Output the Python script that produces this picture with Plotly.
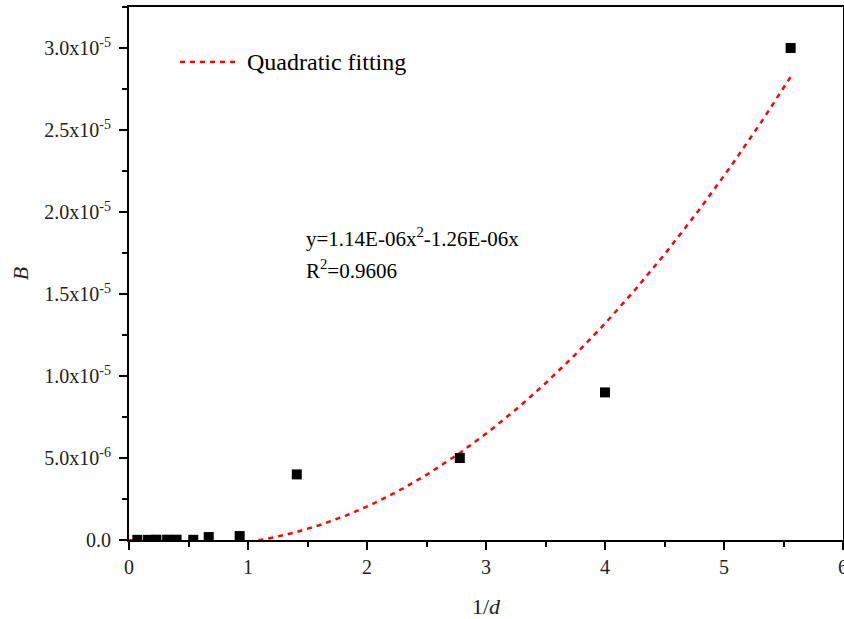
import numpy as np
import plotly.graph_objects as go

# Measured points: inverse size 1/d and coefficient B
inv_d = [0.07, 0.16, 0.23, 0.32, 0.40, 0.54, 0.67, 0.93, 1.41, 2.78, 4.00, 5.56]
b_vals = [1e-8, 1e-8, 2e-8, 2e-8, 2e-8, 1e-8, 1.8e-7, 2.4e-7,
          4.0e-6, 5.0e-6, 9.0e-6, 3.0e-5]

# Quadratic fit coefficients (y = a*x^2 + b*x)
fit_a = 1.14e-6
fit_b = -1.26e-6
fit_r2 = 0.9606

y_tickvals = [0, 5e-6, 1e-5, 1.5e-5, 2e-5, 2.5e-5, 3e-5]
y_ticktext = ["0.0", "5.0x10<sup>-6</sup>", "1.0x10<sup>-5</sup>", "1.5x10<sup>-5</sup>",
              "2.0x10<sup>-5</sup>", "2.5x10<sup>-5</sup>", "3.0x10<sup>-5</sup>"]

xf = np.linspace(0, max(inv_d), 300)
yf = fit_a * xf ** 2 + fit_b * xf

FONT = "Liberation Serif"
RED_LINE = dict(color="#ff0000", width=2.5, dash="5px,5px")

fig = go.Figure()
fig.add_trace(go.Scatter(
    x=xf, y=yf, mode="lines", name="Quadratic fitting", showlegend=False,
    line=RED_LINE,
))
fig.add_trace(go.Scatter(
    x=inv_d, y=b_vals, mode="markers", showlegend=False, cliponaxis=True,
    marker=dict(symbol="square", size=10, color="black"),
))

# Legend key drawn in the upper-left corner
fig.add_shape(type="line", xref="paper", yref="paper",
              x0=0.0714, x1=0.1485, y0=0.897, y1=0.897, line=RED_LINE)
fig.add_annotation(
    x=0.1625, y=0.897, xref="paper", yref="paper", xanchor="left", yanchor="middle",
    text="Quadratic fitting", showarrow=False,
    font=dict(family=FONT, size=24, color="black"),
)

fig.add_annotation(
    x=0.245, y=0.567, xref="paper", yref="paper", xanchor="left", yanchor="middle",
    text=f"y={fit_a:.2E}x<sup>2</sup>{fit_b:.2E}x",
    showarrow=False, font=dict(family=FONT, size=21, color="black"),
)
fig.add_annotation(
    x=0.245, y=0.507, xref="paper", yref="paper", xanchor="left", yanchor="middle",
    text=f"R<sup>2</sup>={fit_r2}",
    showarrow=False, font=dict(family=FONT, size=21, color="black"),
)

axis_common = dict(
    showline=True, linecolor="black", linewidth=2, mirror=True,
    showgrid=False, zeroline=False, ticks="outside", ticklen=8, tickwidth=2,
    tickcolor="black", tickfont=dict(family=FONT, size=20, color="#222"),
    ticklabeloverflow="allow", automargin=False,
)

fig.update_xaxes(
    range=[0, 6], dtick=1, tick0=0,
    minor=dict(ticks="outside", ticklen=5, tickwidth=2, tickcolor="black", dtick=0.5, tick0=0),
    title=dict(text="1/<i>d</i>", font=dict(family=FONT, size=22, color="#222"), standoff=22),
    **axis_common,
)
fig.update_yaxes(
    range=[0, 3.25e-5], tickmode="array", tickvals=y_tickvals, ticktext=y_ticktext,
    ticklabelstandoff=4,
    minor=dict(ticks="outside", ticklen=5, tickwidth=2, tickcolor="black", dtick=2.5e-6, tick0=0),
    title=dict(text="<i>B</i>", font=dict(family=FONT, size=22, color="#222"), standoff=10),
    **axis_common,
)

fig.update_layout(
    width=844, height=619,
    margin=dict(l=129, r=1, t=7, b=79),
    plot_bgcolor="white", paper_bgcolor="white",
    showlegend=False,
)

fig.write_html("out.html")
